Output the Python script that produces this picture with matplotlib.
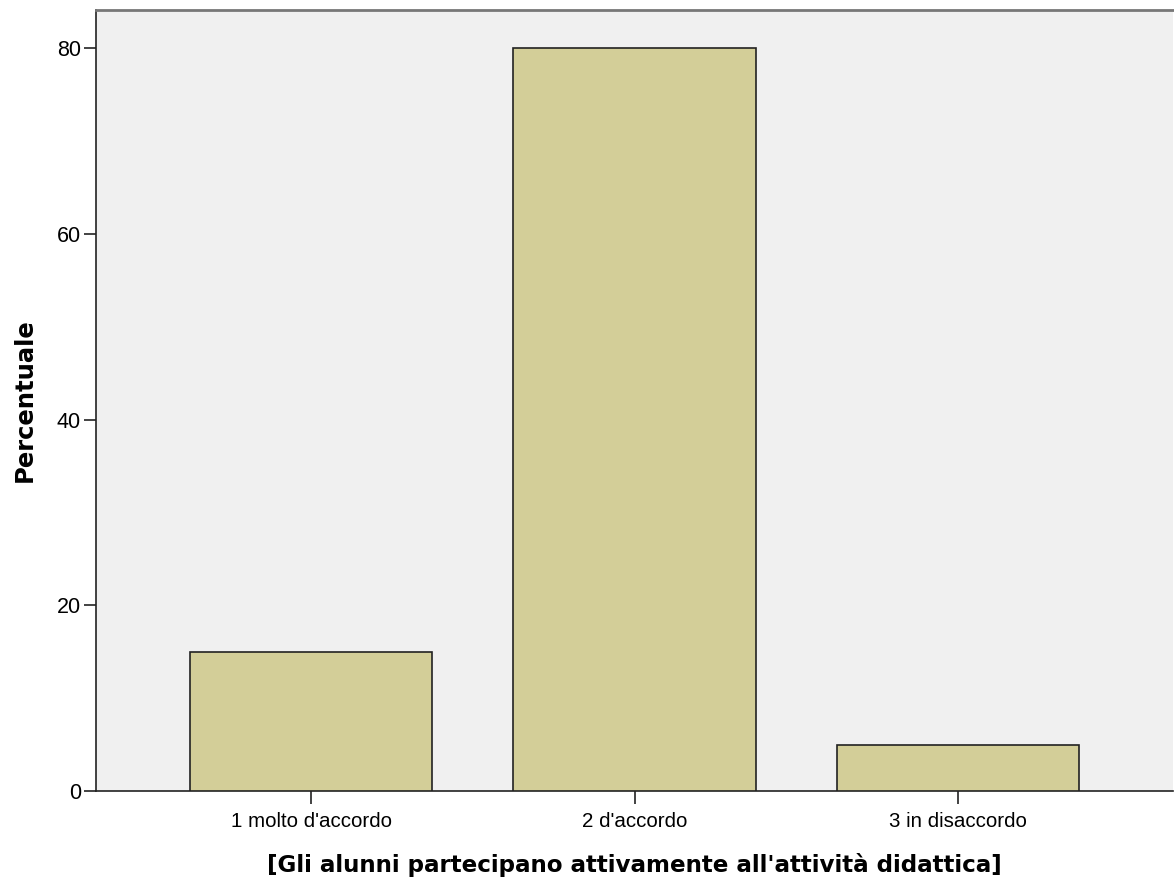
import matplotlib.pyplot as plt
import numpy as np

categories = ["1 molto d'accordo", "2 d'accordo", "3 in disaccordo"]
percentuale = [15, 80, 5]
y_ticks = [0, 20, 40, 60, 80]

plt.rcParams['font.family'] = ['Liberation Sans', 'DejaVu Sans']

fig = plt.figure(figsize=(11.74, 8.85), dpi=100)
ax = fig.add_axes([0.0818, 0.1062, 0.9174, 0.8825])
ax.set_facecolor('#f0f0f0')

x = np.arange(len(categories))
ax.bar(x, percentuale, width=0.75, color='#d3ce98', edgecolor='#222222', linewidth=1.2, zorder=3)

ax.set_xlim(-0.665, 2.665)
ax.set_ylim(0, 84.1)
ax.set_xticks(x)
ax.set_xticklabels(categories, fontsize=14.8)
ax.set_yticks(y_ticks)
ax.set_yticklabels([str(v) for v in y_ticks], fontsize=15.5)
ax.tick_params(direction='out', length=9, width=1.2, colors='#222222', labelcolor='black')
ax.tick_params(axis='x', pad=6)
ax.tick_params(axis='y', pad=2)

for side in ['left', 'bottom']:
    ax.spines[side].set_color('#222222')
    ax.spines[side].set_linewidth(1.2)
ax.spines['top'].set_color('#777777')
ax.spines['top'].set_linewidth(2)
ax.spines['right'].set_visible(False)

ax.set_ylabel('Percentuale', fontsize=17.5, fontweight='bold', family='DejaVu Sans', labelpad=14)
ax.set_xlabel("[Gli alunni partecipano attivamente all'attività didattica]",
              fontsize=16.6, fontweight='bold', family='DejaVu Sans', labelpad=16)

fig.savefig('out.png', dpi=100)
